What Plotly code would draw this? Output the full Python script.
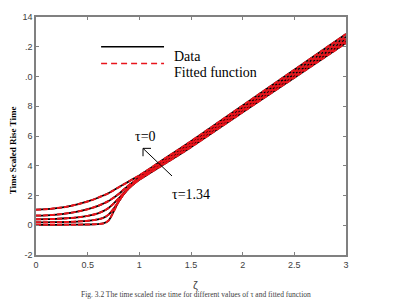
import plotly.graph_objects as go

# shared xi grid
xi = [0, 0.1, 0.2, 0.3, 0.4, 0.5, 0.6, 0.65, 0.7, 0.75, 0.8, 0.85, 0.9, 0.95,
      1.0, 1.1, 1.25, 1.5, 2.0, 2.5, 3.0]

# time scaled rise time for different tau (tau = 0 ... 1.34)
rise_tau0 = [1.05, 1.08, 1.15, 1.25, 1.40, 1.60, 1.85, 2.00, 2.15, 2.35, 2.55, 2.75, 2.95, 3.15,
             3.35, 3.80, 4.50, 5.65, 8.05, 10.45, 12.85]
rise_tau1 = [0.65, 0.67, 0.72, 0.80, 0.92, 1.08, 1.30, 1.45, 1.62, 1.85, 2.10, 2.40, 2.70, 2.95,
             3.25, 3.70, 4.40, 5.55, 7.92, 10.30, 12.68]
rise_tau2 = [0.40, 0.41, 0.43, 0.47, 0.53, 0.63, 0.80, 0.95, 1.15, 1.45, 1.80, 2.20, 2.55, 2.85,
             3.15, 3.60, 4.30, 5.45, 7.80, 10.15, 12.52]
rise_tau3 = [0.20, 0.20, 0.21, 0.22, 0.25, 0.30, 0.40, 0.50, 0.70, 1.10, 1.60, 2.10, 2.50, 2.80,
             3.10, 3.55, 4.20, 5.35, 7.70, 10.02, 12.38]
rise_tau4 = [0.03, 0.03, 0.03, 0.04, 0.04, 0.05, 0.08, 0.12, 0.30, 0.90, 1.60, 2.10, 2.50, 2.80,
             3.05, 3.50, 4.15, 5.25, 7.60, 9.92, 12.25]
series = [rise_tau0, rise_tau1, rise_tau2, rise_tau3, rise_tau4]

ytick_vals = [-2, 0, 2, 4, 6, 8, 10, 12, 14]
ytick_text = ["-2", "0", "2", "4", "6", "8", ".0", ".2", "14"]
xtick_vals = [0, 0.5, 1, 1.5, 2, 2.5, 3]
xtick_text = ["0", "0.5", "1", "1.5", "2", "2.5", "3"]

SERIF = "Liberation Serif"
SANS = "Liberation Sans"

fig = go.Figure()
for ys in series:
    fig.add_trace(go.Scatter(x=xi, y=ys, mode="lines", line=dict(color="black", width=1.8, shape="spline"),
                             showlegend=False))
for ys in series:
    fig.add_trace(go.Scatter(x=xi, y=ys, mode="lines",
                             line=dict(color="#e8141c", width=2.0, dash="5px,2px", shape="spline"),
                             showlegend=False))

axis_common = dict(showline=True, linecolor="#808080", linewidth=1.5, mirror="ticks",
                   ticks="inside", ticklen=3, tickcolor="#808080", showgrid=False, zeroline=False,
                   tickfont=dict(family=SANS, size=9, color="#404040"))
fig.update_xaxes(range=[0, 3], tickvals=xtick_vals, ticktext=xtick_text, **axis_common)
fig.update_yaxes(range=[-2, 14], tickvals=ytick_vals, ticktext=ytick_text, **axis_common)

# legend drawn manually
fig.add_shape(type="line", xref="paper", yref="paper", x0=0.21, x1=0.413, y0=0.8755, y1=0.8755,
              line=dict(color="black", width=1.5))
fig.add_shape(type="line", xref="paper", yref="paper", x0=0.21, x1=0.413, y0=0.805, y1=0.805,
              line=dict(color="#e8141c", width=1.5, dash="6px,4px"))
fig.add_annotation(xref="paper", yref="paper", x=0.438, y=0.8755, text="Data", showarrow=False,
                   xanchor="left", font=dict(family=SERIF, size=14, color="black"))
fig.add_annotation(xref="paper", yref="paper", x=0.438, y=0.805, text="Fitted function", showarrow=False,
                   xanchor="left", font=dict(family=SERIF, size=14, color="black"))

# tau labels and arrow
fig.add_annotation(xref="paper", yref="paper", x=(133 - 36) / 310, y=(255 - 135) / 241, text="τ=0",
                   showarrow=False, font=dict(family=SERIF, size=14, color="black"))
fig.add_annotation(xref="paper", yref="paper", x=(191 - 36) / 310, y=(255 - 203) / 241, text="τ=1.34",
                   showarrow=False, font=dict(family=SERIF, size=14, color="black"))
fig.add_shape(type="line", xref="paper", yref="paper", x0=(172 - 36) / 310, y0=(255 - 175) / 241,
              x1=(143 - 36) / 310, y1=(255 - 147) / 241, line=dict(color="black", width=1))
fig.add_shape(type="line", xref="paper", yref="paper", x0=(143 - 36) / 310, y0=(255 - 147) / 241,
              x1=(151 - 36) / 310, y1=(255 - 147) / 241, line=dict(color="black", width=1))
fig.add_shape(type="line", xref="paper", yref="paper", x0=(143 - 36) / 310, y0=(255 - 147) / 241,
              x1=(143 - 36) / 310, y1=(255 - 155) / 241, line=dict(color="black", width=1))

# axis titles
fig.add_annotation(xref="paper", yref="paper", x=(6 - 36) / 310, y=(255 - 149) / 241, text="<b>Time Scaled Rise Time</b>",
                   textangle=-90, showarrow=False,
                   font=dict(family=SERIF, size=9, color="black"))
fig.add_annotation(xref="paper", yref="paper", x=(195 - 36) / 310, y=(255 - 293) / 241, text="ζ",
                   showarrow=False, font=dict(family=SANS, size=11, color="#404040"))
fig.add_annotation(xref="paper", yref="paper", x=(196 - 36) / 310, y=(255 - 302) / 241,
                   text="Fig. 3.2 The time scaled rise time for different values of τ and fitted function",
                   showarrow=False, font=dict(family=SERIF, size=7.5, color="#404040"))

fig.update_layout(width=410, height=307, margin=dict(l=36, r=64, t=14, b=52),
                  plot_bgcolor="white", paper_bgcolor="white", showlegend=False)
fig.write_html("out.html")
